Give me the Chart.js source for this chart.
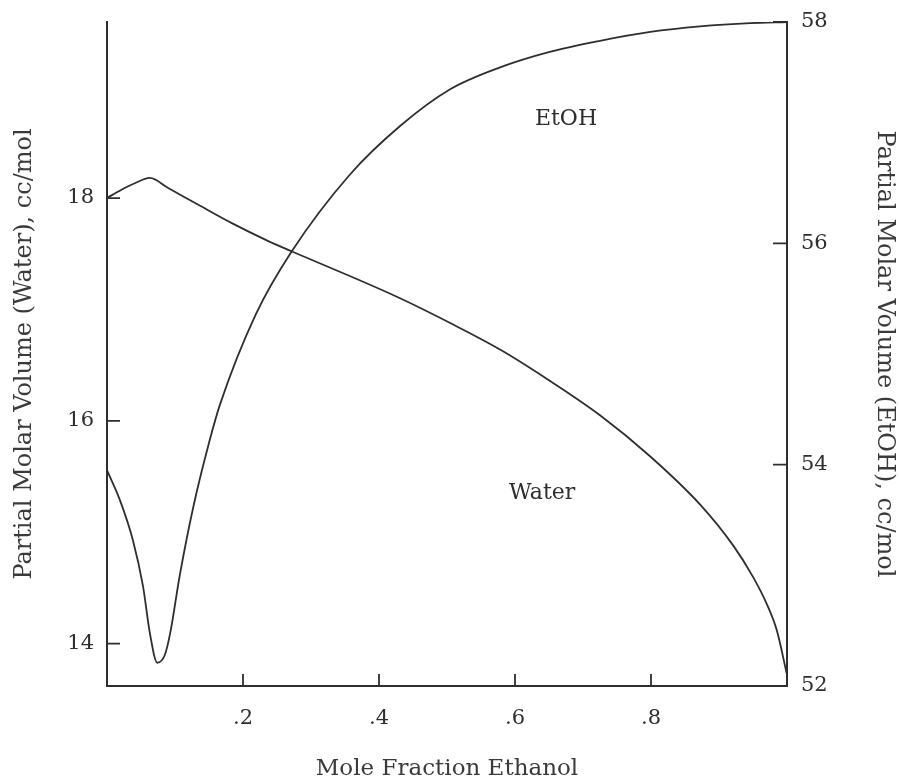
<!DOCTYPE html>
<html>
<head>
<meta charset="utf-8">
<script src="https://cdn.jsdelivr.net/npm/chart.js@4.4.1/dist/chart.umd.min.js"></script>
<style>
  html, body { margin: 0; padding: 0; background: #fff; }
</style>
</head>
<body>
<canvas id="myChart" width="899" height="782"></canvas>
<script>
// partial molar volume of water (left axis), cc/mol
const waterX = [0.000, 0.020, 0.040, 0.063, 0.090, 0.137, 0.185, 0.235, 0.272, 0.357, 0.431, 0.504, 0.578, 0.651, 0.725, 0.799, 0.872, 0.921, 0.950, 0.970, 0.985, 1.000];
const waterV = [18.00, 18.07, 18.13, 18.18, 18.09, 17.93, 17.77, 17.62, 17.52, 17.30, 17.10, 16.88, 16.64, 16.36, 16.05, 15.68, 15.25, 14.88, 14.60, 14.36, 14.12, 13.72];

// partial molar volume of ethanol (right axis), cc/mol
const etohX = [0.000, 0.019, 0.038, 0.053, 0.063, 0.074, 0.085, 0.093, 0.107, 0.127, 0.151, 0.166, 0.219, 0.272, 0.357, 0.431, 0.504, 0.578, 0.651, 0.725, 0.799, 0.872, 0.946, 1.000];
const etohV = [53.95, 53.68, 53.32, 52.90, 52.48, 52.21, 52.28, 52.48, 53.00, 53.62, 54.22, 54.54, 55.36, 55.93, 56.62, 57.06, 57.39, 57.59, 57.73, 57.83, 57.91, 57.96, 57.99, 58.00];

const xTicks = [0.2, 0.4, 0.6, 0.8];
const waterTicks = [14, 16, 18];
const etohTicks = [52, 54, 56, 58];

const ink = '#2e2e2e';
const serif = '"DejaVu Serif", "Liberation Serif", serif';

const toPoints = (xs, ys) => xs.map((x, i) => ({ x: x, y: ys[i] }));

// short tick marks pointing into the plot, like the old hand-drawn frame
const innerTicks = {
  id: 'innerTicks',
  afterDatasetsDraw(chart) {
    const { ctx, chartArea: { left, right, bottom }, scales } = chart;
    ctx.save();
    ctx.strokeStyle = ink;
    ctx.lineWidth = 1.8;
    ctx.beginPath();
    xTicks.forEach(v => {
      const px = scales.x.getPixelForValue(v);
      ctx.moveTo(px, bottom);
      ctx.lineTo(px, bottom - 12);
    });
    waterTicks.forEach(v => {
      const py = scales.y.getPixelForValue(v);
      ctx.moveTo(left, py);
      ctx.lineTo(left + 13, py);
    });
    etohTicks.forEach(v => {
      const py = scales.y1.getPixelForValue(v);
      ctx.moveTo(right, py);
      ctx.lineTo(right - 14, py);
    });
    ctx.stroke();
    ctx.restore();
  }
};

// curve names written inside the plot
const curveNames = {
  id: 'curveNames',
  afterDatasetsDraw(chart, args, opts) {
    const { ctx, scales } = chart;
    ctx.save();
    ctx.fillStyle = ink;
    ctx.font = opts.font;
    ctx.textAlign = 'center';
    ctx.textBaseline = 'middle';
    opts.items.forEach(it => {
      const s = it.axis === 'y1' ? scales.y1 : scales.y;
      ctx.fillText(it.text, scales.x.getPixelForValue(it.x), s.getPixelForValue(it.y));
    });
    ctx.restore();
  }
};

const setTicks = list => scale => { scale.ticks = list.map(v => ({ value: v })); };

// fixed side widths, and no extra room reserved for the end labels
const fitSide = w => s => {
  s.width = w;
  s.paddingTop = 0;
  s.paddingBottom = 0;
};

const config = {
  type: 'line',
  data: {
    datasets: [
      {
        label: 'Water',
        data: toPoints(waterX, waterV),
        yAxisID: 'y',
        borderColor: ink,
        borderWidth: 1.8,
        pointRadius: 0,
        cubicInterpolationMode: 'monotone',
        fill: false
      },
      {
        label: 'EtOH',
        data: toPoints(etohX, etohV),
        yAxisID: 'y1',
        borderColor: ink,
        borderWidth: 1.8,
        pointRadius: 0,
        cubicInterpolationMode: 'monotone',
        fill: false
      }
    ]
  },
  options: {
    responsive: false,
    animation: false,
    events: [],
    layout: { padding: { top: 22 } },
    scales: {
      x: {
        type: 'linear',
        min: 0,
        max: 1,
        afterBuildTicks: setTicks(xTicks),
        afterFit: s => { s.height = 96; },
        grid: { display: false, drawTicks: false },
        border: { display: true, color: ink, width: 2 },
        ticks: {
          color: ink,
          padding: 20,
          font: { family: serif, size: 21 },
          callback: v => String(v).replace(/^0/, '')
        },
        title: {
          display: true,
          text: 'Mole Fraction Ethanol',
          color: '#3a3a3a',
          font: { family: serif, size: 23 },
          padding: { top: 0, bottom: -1 }
        }
      },
      y: {
        position: 'left',
        min: 13.62,
        max: 19.58,
        afterBuildTicks: setTicks(waterTicks),
        afterFit: fitSide(107),
        grid: { display: false, drawTicks: false },
        border: { display: true, color: ink, width: 2 },
        ticks: {
          color: ink,
          padding: 13,
          font: { family: serif, size: 21 }
        },
        title: {
          display: true,
          text: 'Partial Molar Volume (Water), cc/mol',
          color: '#3a3a3a',
          font: { family: serif, size: 24 },
          padding: { top: 10, bottom: 0 }
        }
      },
      y1: {
        position: 'right',
        min: 52,
        max: 58,
        afterBuildTicks: setTicks(etohTicks),
        afterFit: fitSide(112),
        grid: { display: false, drawTicks: false },
        border: { display: true, color: ink, width: 2 },
        ticks: {
          color: ink,
          padding: 14,
          font: { family: serif, size: 21 }
        },
        title: {
          display: true,
          text: 'Partial Molar Volume (EtOH), cc/mol',
          color: '#3a3a3a',
          font: { family: serif, size: 24 },
          padding: { top: 0, bottom: 0 }
        }
      }
    },
    plugins: {
      legend: { display: false },
      tooltip: { enabled: false },
      curveNames: {
        font: '22px ' + serif,
        items: [
          { text: 'EtOH', x: 0.675, y: 57.12, axis: 'y1' },
          { text: 'Water', x: 0.64, y: 15.35, axis: 'y' }
        ]
      }
    }
  },
  plugins: [innerTicks, curveNames]
};

const myChart = new Chart(document.getElementById('myChart'), config);
</script>
</body>
</html>
